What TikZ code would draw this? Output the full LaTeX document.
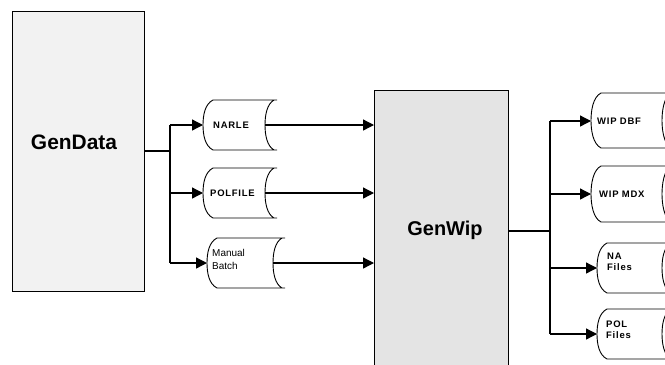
\documentclass[tikz,border=0pt]{standalone}
\usepackage{fontspec}
\setmainfont{Liberation Sans}
\usetikzlibrary{arrows.meta}
\newcommand\sdshape[4]{% L R T B
  \pgfmathsetmacro\sdmid{(#3+#4)/2}
  \draw[sdline] ({#1+10},#3) -- (#2,#3) ({#1+10},#4) -- (#2,#4)
    ({#1+10},#3) .. controls ({#1+2},{#3+4}) and (#1,{\sdmid-10}) .. (#1,\sdmid)
      .. controls (#1,{\sdmid+10}) and ({#1+2},{#4-4}) .. ({#1+10},#4)
    ({#2-3},#3) .. controls ({#2-10},{#3+4}) and ({#2-12},{\sdmid-10}) .. ({#2-12},\sdmid)
      .. controls ({#2-12},{\sdmid+10}) and ({#2-10},{#4-4}) .. ({#2-3},#4);
}
\tikzset{
  sdline/.style={line width=0.9bp, black},
  proc/.style={draw, line width=1bp, anchor=north west, inner sep=0pt},
  conn/.style={line width=1.3bp},
  arr/.style={conn, -{Triangle[length=11bp,width=11bp]}},
  flab/.style={font=\fontsize{9.5}{11.5}\selectfont\bfseries\addfontfeature{LetterSpace=8}, inner sep=0pt, anchor=west, align=left},
  mlab/.style={font=\fontsize{10}{13}\selectfont, inner sep=0pt, anchor=west, align=left},
}
\begin{document}
\begin{tikzpicture}[x=1bp,y=-1bp]
\useasboundingbox (0,0) rectangle (665,364);
% process boxes
\node[proc, fill={rgb,255:red,242;green,242;blue,242}, minimum width=132bp, minimum height=280bp] (gendata) at (12,11) {};
\node[font=\fontsize{21}{24}\selectfont\bfseries] (gendatat) at (74,142) {GenData};
\node[proc, fill={rgb,255:red,228;green,228;blue,228}, minimum width=134bp, minimum height=290bp] (genwip) at (374,90) {};
\node[font=\fontsize{20}{24}\selectfont\bfseries] (genwipt) at (445,230) {GenWip};
% left files
\sdshape{203}{277}{100}{150}
\sdshape{203}{277}{168}{218}
\sdshape{207}{285}{238}{288}
\coordinate (narle) at (203,125);
\coordinate (narleo) at (265,125);
\coordinate (polfile) at (203,193);
\coordinate (polfileo) at (265,193);
\coordinate (manual) at (207,263);
\coordinate (manualo) at (273,263);
\node[flab] (narlet) at (213,125) {NARLE};
\node[flab] (polfilet) at (210,193) {POLFILE};
\node[mlab] (manualt) at (212,259) {Manual\\Batch};
% right files
\sdshape{591}{674}{93}{148}
\sdshape{591}{674}{166}{222}
\sdshape{597}{674}{243}{293}
\sdshape{597}{674}{309}{359}
\coordinate (wipdbf) at (591,121);
\coordinate (wipmdx) at (591,194);
\coordinate (nafiles) at (597,268);
\coordinate (polfiles) at (597,334);
\node[flab] (wipdbft) at (597,121) {WIP DBF};
\node[flab] (wipmdxt) at (599,194) {WIP MDX};
\node[flab] (nafilest) at (607,262) {NA\\Files};
\node[flab] (polfilest) at (606,330) {POL\\Files};
% buses
\coordinate (bus1) at (170,151);
\coordinate (bus2) at (550,231);
\draw[conn] (gendata.east |- bus1) -- (bus1);
\draw[conn] (bus1 |- narle) -- (bus1 |- manual);
\draw[arr] (bus1 |- narle) -- (narle);
\draw[arr] (bus1 |- polfile) -- (polfile);
\draw[arr] (bus1 |- manual) -- (manual);
\draw[arr] (narleo) -- (genwip.west |- narleo);
\draw[arr] (polfileo) -- (genwip.west |- polfileo);
\draw[arr] (manualo) -- (genwip.west |- manualo);
\draw[line width=2.2bp] (genwip.east |- bus2) -- (bus2);
\draw[conn] (bus2 |- wipdbf) -- (bus2 |- polfiles);
\draw[arr] (bus2 |- wipdbf) -- (wipdbf);
\draw[arr] (bus2 |- wipmdx) -- (wipmdx);
\draw[arr] (bus2 |- nafiles) -- (nafiles);
\draw[arr] (bus2 |- polfiles) -- (polfiles);
\end{tikzpicture}
\end{document}
